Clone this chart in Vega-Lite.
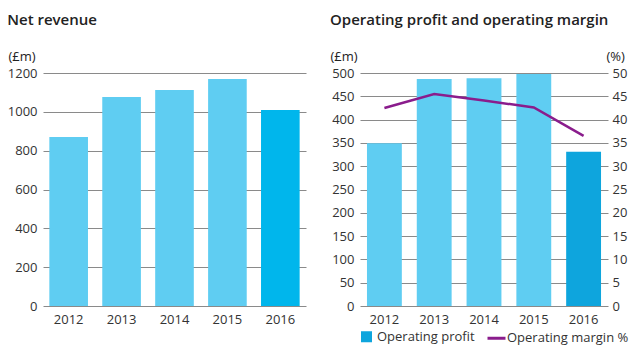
{
  "$schema": "https://vega.github.io/schema/vega-lite/v6.json",
  "padding": {"left": 7, "top": 13, "right": 5, "bottom": 5},
  "background": "white",
  "data": {"values": [
    {"year": 2012, "revenue": 870, "profit": 349, "margin": 42.5},
    {"year": 2013, "revenue": 1076, "profit": 487, "margin": 45.5},
    {"year": 2014, "revenue": 1112, "profit": 489, "margin": 44.1},
    {"year": 2015, "revenue": 1169, "profit": 498, "margin": 42.6},
    {"year": 2016, "revenue": 1009, "profit": 331, "margin": 36.5}
  ]},
  "spacing": 24,
  "resolve": {"scale": {"color": "independent"}, "legend": {"color": "independent"}},
  "hconcat": [
    {
      "title": {"text": "Net revenue"},
      "width": 263,
      "height": 233,
      "mark": {"type": "bar"},
      "encoding": {
        "x": {"field": "year", "type": "ordinal", "scale": {"paddingInner": 0.27, "paddingOuter": 0.12},
              "axis": {"title": null, "labelAngle": 0, "labelPadding": 7}},
        "y": {"field": "revenue", "type": "quantitative",
              "scale": {"domain": [0, 1200], "nice": false},
              "axis": {"values": [0, 200, 400, 600, 800, 1000, 1200], "format": "d", "grid": true, "labelPadding": 6,
                       "title": "(£m)", "titleAngle": 0, "titleAlign": "left", "titleBaseline": "alphabetic",
                       "titleX": -35, "titleY": -13}},
        "color": {"condition": {"test": "datum.year === 2016", "value": "#00b6ec"}, "value": "#5fcdf2"}
      }
    },
    {
      "title": {"text": "Operating profit and operating margin"},
      "width": 248,
      "height": 233,
      "encoding": {
        "x": {"field": "year", "type": "ordinal", "scale": {"paddingInner": 0.3, "paddingOuter": 0.14},
              "axis": {"title": null, "labelAngle": 0, "labelPadding": 7}}
      },
      "layer": [
        {
          "mark": {"type": "bar"},
          "encoding": {
            "y": {"field": "profit", "type": "quantitative",
                  "scale": {"domain": [0, 500], "nice": false},
                  "axis": {"values": [0, 50, 100, 150, 200, 250, 300, 350, 400, 450, 500], "format": "d", "grid": true, "labelPadding": 6,
                           "title": "(£m)", "titleAngle": 0, "titleAlign": "left", "titleBaseline": "alphabetic",
                           "titleX": -30, "titleY": -13}},
            "color": {
              "condition": {"test": "datum.year !== 2016", "value": "#5fcdf2"},
              "datum": "Operating profit", "type": "nominal",
              "scale": {"domain": ["Operating profit", "Operating margin %"], "range": ["#0ea5dd", "#8a1c8c"]},
              "legend": {
                "orient": "bottom", "title": null, "direction": "horizontal",
                "symbolSize": 256, "labelOffset": 4, "columnPadding": 6, "offset": 4,
                "labelFont": "Open Sans", "labelFontSize": 13, "labelColor": "#333",
                "encode": {"symbols": {"update": {
                  "shape": {"signal": "datum.label === 'Operating margin %' ? 'stroke' : 'square'"},
                  "size": {"signal": "datum.label === 'Operating margin %' ? 324 : 64"},
                  "fill": {"signal": "datum.label === 'Operating margin %' ? 'transparent' : '#0ea5dd'"},
                  "stroke": {"signal": "datum.label === 'Operating margin %' ? '#8a1c8c' : 'transparent'"},
                  "strokeWidth": {"value": 3},
                  "opacity": {"value": 1}
                }}}
              }
            }
          }
        },
        {
          "mark": {"type": "line", "strokeWidth": 2.5},
          "encoding": {
            "y": {"field": "margin", "type": "quantitative",
                  "scale": {"domain": [0, 50], "nice": false},
                  "axis": {"orient": "right", "values": [0, 5, 10, 15, 20, 25, 30, 35, 40, 45, 50], "format": "d", "grid": false, "labelPadding": 4,
                           "title": "(%)", "titleAngle": 0, "titleAlign": "left", "titleBaseline": "alphabetic",
                           "titleX": -2, "titleY": -13}},
            "color": {"datum": "Operating margin %", "type": "nominal"}
          }
        }
      ],
      "resolve": {"scale": {"y": "independent"}}
    }
  ],
  "config": {
    "view": {"stroke": null},
    "font": "Open Sans",
    "title": {"font": "Open Sans", "fontSize": 15, "fontWeight": 600, "color": "#222", "anchor": "start", "frame": "bounds", "baseline": "alphabetic", "offset": 22},
    "axis": {"labelFont": "Open Sans", "labelFontSize": 13, "labelColor": "#333", "domain": false, "ticks": false,
             "gridColor": "#8a8a8a", "gridWidth": 1, "titleFont": "Open Sans", "titleFontSize": 13, "titleFontWeight": "normal", "titleColor": "#222"}
  }
}
